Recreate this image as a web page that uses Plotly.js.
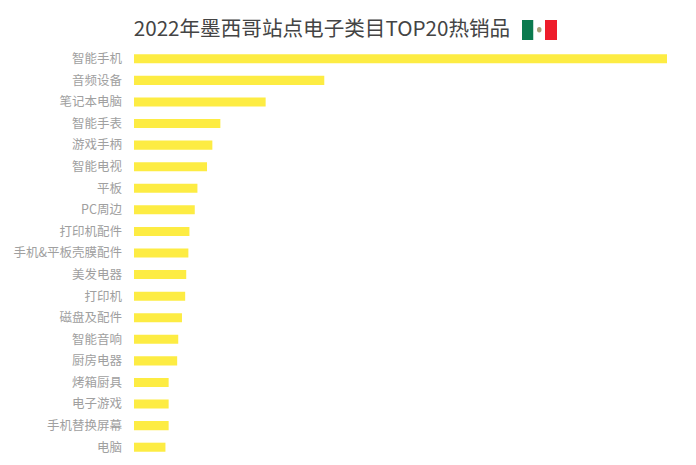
<!DOCTYPE html>
<html>
<head>
<meta charset="utf-8">
<script src="https://cdn.plot.ly/plotly-3.0.1.min.js"></script>
<style>html,body{margin:0;padding:0;background:#fff}</style>
</head>
<body>
<div id="chart" style="width:696px;height:465px"></div>
<script>
const categories = ["智能手机","音频设备","笔记本电脑","智能手表","游戏手柄","智能电视","平板","PC周边","打印机配件","手机&平板壳膜配件","美发电器","打印机","磁盘及配件","智能音响","厨房电器","烤箱厨具","电子游戏","手机替换屏幕","电脑"];
const values = [100,35.7,24.7,16.2,14.7,13.7,11.9,11.4,10.4,10.2,9.8,9.6,9.0,8.3,8.1,6.5,6.5,6.5,5.9];
const titleText = "2022年墨西哥站点电子类目TOP20热销品";
const W = 696, H = 465;
const M = {l:134, r:29, t:48, b:7};
const px = v => (v - M.l) / (W - M.l - M.r), py = v => 1 - (v - M.t) / (H - M.t - M.b);
const rect = (x0, x1, y0, y1, fill) => ({type:"rect", xref:"paper", yref:"paper", x0:px(x0), x1:px(x1), y0:py(y1), y1:py(y0), fillcolor:fill, line:{width:0}, layer:"above"});
Plotly.newPlot("chart", [{
  type:"bar", orientation:"h", x:values, y:categories,
  marker:{color:"#FDEC43", line:{width:0}}, hoverinfo:"x+y"
}], {
  width:W, height:H,
  margin:M,
  paper_bgcolor:"#fff", plot_bgcolor:"#fff",
  bargap:0.58,
  showlegend:false,
  font:{family:"'Noto Sans CJK SC','Noto Sans',sans-serif"},
  title:{text:titleText, x:322/W, xanchor:"center", y:1-29/H, yanchor:"middle", font:{size:20.6, color:"#444444", family:"'Noto Sans CJK SC',sans-serif"}},
  xaxis:{range:[0,100], visible:false, fixedrange:true},
  yaxis:{type:"category", autorange:"reversed", showgrid:false, showline:false, zeroline:false, ticks:"", ticklabelstandoff:11, tickfont:{size:12.5, color:"#A0A0A0"}, fixedrange:true},
  shapes:[
    rect(522,533.5,20,40,"#0A7A4E"),
    rect(533.5,545,20,40,"#FFFFFF"),
    rect(545,557,20,40,"#EE1C2A"),
    {type:"circle", xref:"paper", yref:"paper", x0:px(537), x1:px(541.5), y0:py(32.5), y1:py(27), fillcolor:"#A8A078", line:{width:0}, layer:"above"}
  ]
}, {displayModeBar:false, staticPlot:true});
</script>
</body>
</html>
